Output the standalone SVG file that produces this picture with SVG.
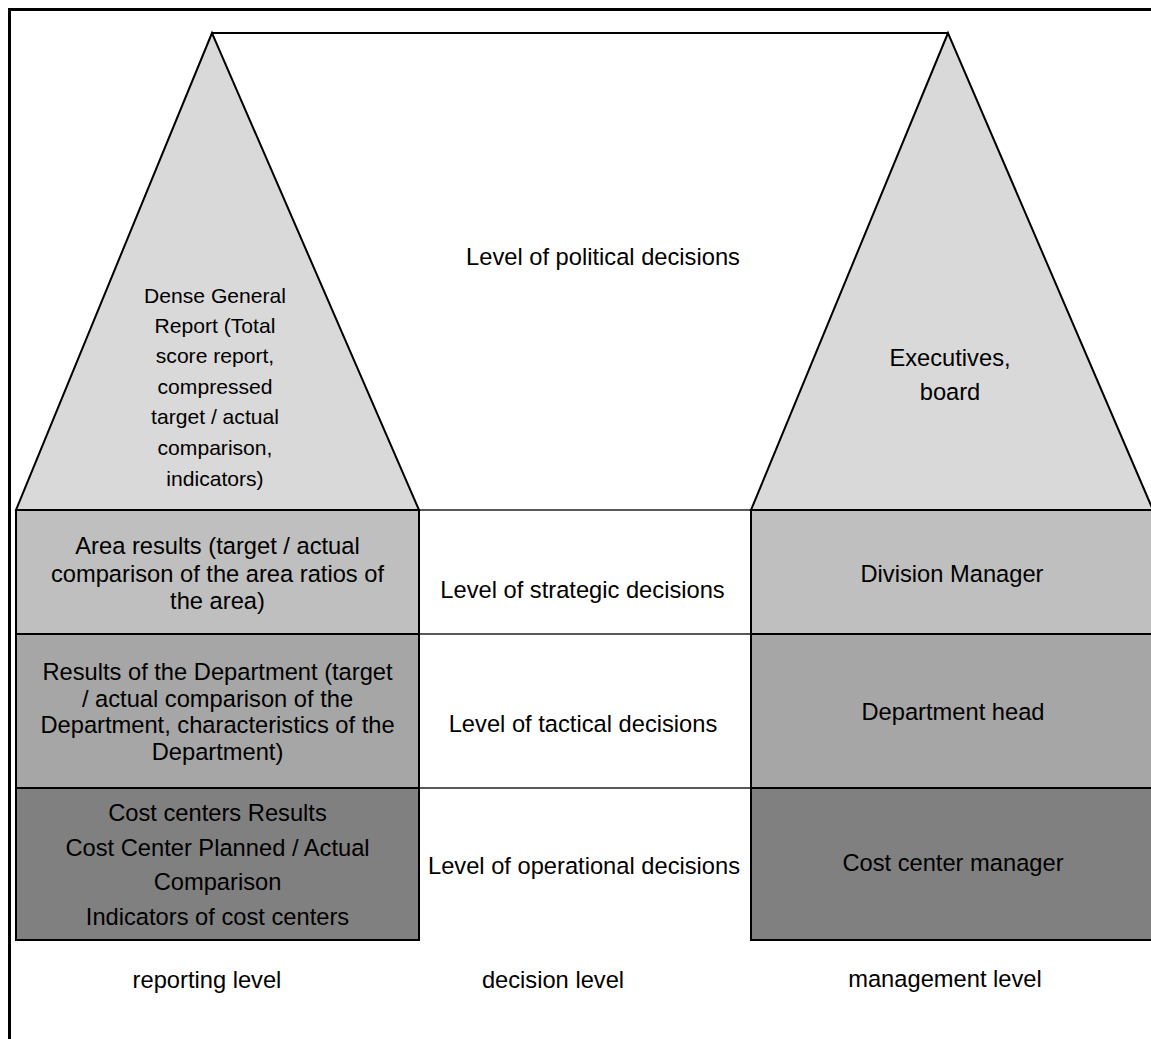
<svg xmlns="http://www.w3.org/2000/svg" width="1151" height="1039" viewBox="0 0 1151 1039">
  <style>
    .shape { stroke: #000; stroke-width: 2; stroke-linejoin: miter; }
    .top { fill: #d9d9d9; }
    .l1 { fill: #bfbfbf; }
    .l2 { fill: #a6a6a6; }
    .l3 { fill: #808080; }
    .link { stroke: #000; stroke-width: 2; fill: none; }
    .row { stroke: #222; stroke-width: 1.5; fill: none; }
    .frame { stroke: #000; stroke-width: 3; fill: none; }
    text { font-family: "Liberation Sans", Arial, sans-serif; font-size: 23.7px; fill: #000; text-anchor: middle; }
    text.small { font-size: 21.1px; }
  </style>

  <rect x="0" y="0" width="1151" height="1039" fill="#fff"/>

  <!-- page frame (top and left edges) -->
  <g id="frame">
    <path class="frame" d="M9.5 1039 V9.5 H1151"/>
  </g>

  <!-- lines joining the two pyramids and separating the decision rows -->
  <g id="connectors">
    <line class="link" x1="212" y1="33" x2="948" y2="33"/>
    <line class="row" x1="419" y1="510" x2="751" y2="510"/>
    <line class="row" x1="419" y1="634" x2="751" y2="634"/>
    <line class="row" x1="419" y1="788" x2="751" y2="788"/>
  </g>

  <!-- reporting pyramid -->
  <g id="report-top">
    <polygon class="shape top" points="212,33 16,510 419,510"/>
    <text class="small" x="215" y="303">Dense General</text>
    <text class="small" x="215" y="333">Report (Total</text>
    <text class="small" x="215" y="363">score report,</text>
    <text class="small" x="215" y="394">compressed</text>
    <text class="small" x="215" y="424">target / actual</text>
    <text class="small" x="215" y="455">comparison,</text>
    <text class="small" x="215" y="486">indicators)</text>
  </g>
  <g id="report-area">
    <rect class="shape l1" x="16" y="510" width="403" height="124"/>
    <text x="217.5" y="554">Area results (target / actual</text>
    <text x="217.5" y="582">comparison of the area ratios of</text>
    <text x="217.5" y="609">the area)</text>
  </g>
  <g id="report-department">
    <rect class="shape l2" x="16" y="634" width="403" height="154"/>
    <text x="217.5" y="680">Results of the Department (target</text>
    <text x="217.5" y="707">/ actual comparison of the</text>
    <text x="217.5" y="733">Department, characteristics of the</text>
    <text x="217.5" y="760">Department)</text>
  </g>
  <g id="report-costcenter">
    <rect class="shape l3" x="16" y="788" width="403" height="152"/>
    <text x="217.5" y="821">Cost centers Results</text>
    <text x="217.5" y="856">Cost Center Planned / Actual</text>
    <text x="217.5" y="890">Comparison</text>
    <text x="217.5" y="925">Indicators of cost centers</text>
  </g>

  <!-- decision levels -->
  <g id="decision-political">
    <text x="603" y="265">Level of political decisions</text>
  </g>
  <g id="decision-strategic">
    <text x="582.5" y="598">Level of strategic decisions</text>
  </g>
  <g id="decision-tactical">
    <text x="583" y="732">Level of tactical decisions</text>
  </g>
  <g id="decision-operational">
    <text x="584" y="874">Level of operational decisions</text>
  </g>

  <!-- management pyramid -->
  <g id="manage-top">
    <polygon class="shape top" points="948,33 751,510 1153,510"/>
    <text x="950" y="366">Executives,</text>
    <text x="950" y="400">board</text>
  </g>
  <g id="manage-division">
    <rect class="shape l1" x="751" y="510" width="402" height="124"/>
    <text x="952" y="582">Division Manager</text>
  </g>
  <g id="manage-department">
    <rect class="shape l2" x="751" y="634" width="402" height="154"/>
    <text x="953" y="720">Department head</text>
  </g>
  <g id="manage-costcenter">
    <rect class="shape l3" x="751" y="788" width="402" height="152"/>
    <text x="953" y="871">Cost center manager</text>
  </g>

  <!-- column captions -->
  <g id="caption-reporting">
    <text x="207" y="988">reporting level</text>
  </g>
  <g id="caption-decision">
    <text x="553" y="988">decision level</text>
  </g>
  <g id="caption-management">
    <text x="945" y="987">management level</text>
  </g>
</svg>
